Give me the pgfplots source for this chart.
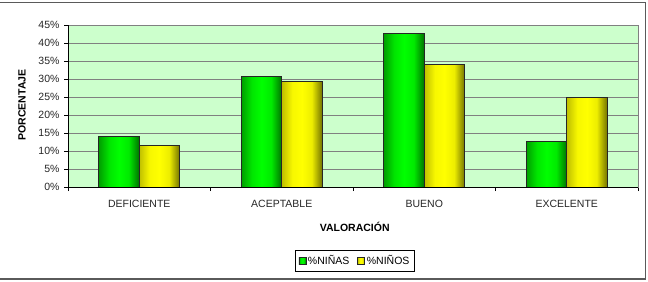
\documentclass[border=0pt]{standalone}
\usepackage{fontspec}
\setmainfont{Liberation Sans}
\usepackage{pgfplots}
\pgfplotsset{compat=1.18}
\definecolor{plotbg}{RGB}{204,255,204}
\definecolor{gridc}{RGB}{128,128,128}
\definecolor{frame}{RGB}{90,90,90}
\pgfdeclarehorizontalshading{gbar}{100bp}{
  rgb(0bp)=(0,0.62,0); rgb(25bp)=(0,0.62,0); rgb(38bp)=(0,0.9,0); rgb(50bp)=(0,1,0);
  rgb(62bp)=(0,0.92,0); rgb(75bp)=(0,0.45,0); rgb(100bp)=(0,0.45,0)}
\pgfdeclarehorizontalshading{ybar}{100bp}{
  rgb(0bp)=(0.75,0.75,0); rgb(25bp)=(0.75,0.75,0); rgb(38bp)=(0.97,0.97,0); rgb(50bp)=(1,1,0);
  rgb(62bp)=(0.93,0.93,0); rgb(75bp)=(0.45,0.45,0); rgb(100bp)=(0.45,0.45,0)}
\pgfplotsset{
  girls/.style={draw=black!85, line width=0.7bp, shading=gbar, bar shift=-20.25bp},
  boys/.style={draw=black!85, line width=0.7bp, shading=ybar, bar shift=20.25bp},
}
\begin{document}
\begin{tikzpicture}[x=1bp,y=1bp]
\useasboundingbox (0,0) rectangle (648,281);
\draw[frame,line width=1.4bp] (-2,278.5) -- (645.5,278.5) -- (645.5,2) -- (-2,2);
\begin{axis}[
  scale only axis,
  width=570bp, height=162bp,
  at={(68bp,94bp)}, anchor=south west,
  ybar, bar width=40.5bp,
  xmin=-0.5, xmax=3.5,
  ymin=0, ymax=45,
  xtick={-0.5,0.5,1.5,2.5,3.5},
  xticklabels={},
  extra x ticks={0,1,2,3},
  extra x tick labels={DEFICIENTE,ACEPTABLE,BUENO,EXCELENTE},
  extra x tick style={major tick length=0pt, grid=none,
     tick label style={anchor=center, yshift=-17bp}},
  ytick={0,5,...,45},
  yticklabel={\pgfmathprintnumber{\tick}\%},
  /pgf/number format/assume math mode=true,
  tick align=outside,
  major tick length=4bp,
  tick style={black, line width=0.6bp},
  xtick pos=bottom, ytick pos=left,
  ymajorgrids,
  grid style={gridc, line width=0.8bp},
  axis line style={gridc, line width=0.8bp},
  axis background/.style={fill=plotbg},
  tick label style={font=\fontsize{10.5bp}{12bp}\selectfont, text=black!85},
  yticklabel style={xshift=-1bp},
  xlabel={VALORACIÓN},
  ylabel={PORCENTAJE},
  label style={font=\bfseries\fontsize{10.5bp}{12bp}\selectfont},
  xlabel style={at={(axis description cs:0.503,-0.247)}, anchor=center},
  ylabel style={at={(axis description cs:-0.0807,0.506)}, anchor=center, rotate=0},
  legend columns=2,
  area legend,
  legend style={at={(axis description cs:0.5035,-0.457)}, anchor=center,
     font=\fontsize{10.5bp}{12bp}\selectfont, draw=black, line width=0.5bp,
     inner xsep=3bp, inner ysep=3bp,
     /tikz/every even column/.append style={column sep=6bp}},
  legend image code/.code={\draw[#1, line width=0.5bp] (0bp,-3.5bp) rectangle (7bp,3.5bp);},
]
\addplot[girls] coordinates {(0,14.0)};
\addlegendentry{\%NIÑAS}
\addplot[boys] coordinates {(0,11.5)};
\addlegendentry{\%NIÑOS}
\addplot[girls, forget plot] coordinates {(1,30.6)};
\addplot[girls, forget plot] coordinates {(2,42.6)};
\addplot[girls, forget plot] coordinates {(3,12.7)};
\addplot[boys, forget plot] coordinates {(1,29.4)};
\addplot[boys, forget plot] coordinates {(2,34.1)};
\addplot[boys, forget plot] coordinates {(3,24.8)};
\draw[black, line width=0.8bp] (rel axis cs:0,1) -- (rel axis cs:0,0) -- (rel axis cs:1,0);
\end{axis}
\end{tikzpicture}
\end{document}
